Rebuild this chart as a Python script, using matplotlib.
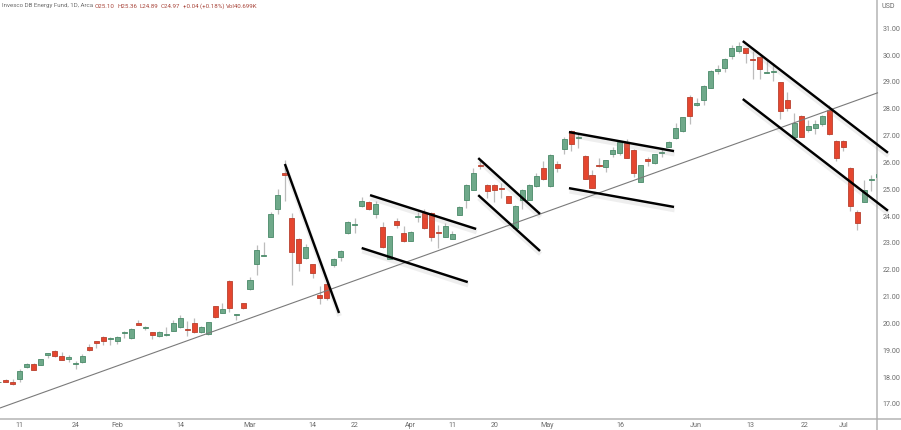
import numpy as np
import matplotlib.pyplot as plt
import matplotlib.patheffects as pe

plt.rcParams['font.family'] = ['Roboto', 'DejaVu Sans']

# candles, first one sits half off the left edge
first_bar = -1
opens = [17.81,17.91,17.83,17.93,18.37,18.50,18.47,18.84,18.99,18.77,
         18.69,18.49,18.55,19.11,19.33,19.51,19.43,19.36,19.66,19.46,
         20.00,19.83,19.67,19.52,19.57,19.73,19.85,19.81,20.00,19.68,
         19.59,20.64,20.40,21.58,20.31,20.75,21.28,22.21,22.52,23.23,
         24.27,25.60,23.91,23.15,22.42,22.20,21.06,21.47,22.19,22.46,
         23.36,23.68,24.37,24.54,24.06,23.58,22.41,23.80,23.37,23.07,
         23.96,24.11,24.13,23.41,23.23,23.16,24.05,24.61,24.98,25.89,
         25.16,25.16,25.04,24.73,23.57,24.60,24.61,25.12,25.79,25.12,
         25.93,26.51,27.18,26.91,26.25,25.52,25.89,25.84,26.31,26.36,
         26.73,26.48,25.28,26.11,25.98,26.35,26.58,26.91,27.18,28.42,
         28.12,28.32,28.78,29.41,29.53,29.95,30.15,30.26,29.87,29.91,
         29.34,29.36,28.98,28.34,26.93,27.71,27.22,27.29,27.43,27.95,
         26.78,26.81,25.79,24.14,24.54,25.33,25.47]
closes = [17.83,17.83,17.74,18.24,18.49,18.28,18.66,18.89,18.77,18.64,
          18.74,18.54,18.80,19.02,19.26,19.33,19.47,19.51,19.69,19.79,
          19.94,19.87,19.58,19.68,19.62,20.02,20.22,19.77,19.67,19.87,
          20.04,20.23,20.53,20.59,20.35,20.56,21.62,22.74,22.56,24.08,
          24.80,25.53,22.67,22.26,22.83,21.87,20.94,20.96,22.39,22.70,
          23.79,23.72,24.55,24.25,24.45,22.86,23.24,23.68,23.07,23.42,
          23.99,23.57,23.22,23.37,23.63,23.34,24.34,25.16,25.59,25.85,
          24.95,24.97,25.01,24.50,24.39,24.97,25.17,25.48,25.38,26.27,
          25.80,26.87,26.67,26.93,25.39,25.06,25.85,26.08,26.45,26.75,
          26.17,25.62,25.90,26.06,26.30,26.37,26.77,27.27,27.68,27.74,
          28.20,28.84,29.39,29.49,29.86,30.26,30.35,30.06,29.81,29.49,
          29.36,29.41,27.91,28.04,27.48,26.96,27.34,27.44,27.74,27.04,
          26.16,26.58,24.39,23.74,24.97,25.37,25.58]
highs = [17.85,17.93,17.92,18.29,18.51,18.51,18.68,18.91,19.01,18.92,
         18.81,18.59,18.85,19.23,19.35,19.53,19.49,19.53,19.72,19.83,
         20.13,19.89,19.69,19.73,19.87,20.13,20.33,20.10,20.20,19.89,
         20.07,20.66,20.75,21.61,20.36,20.76,21.74,22.91,23.02,24.16,
         25.02,26.09,24.10,23.17,22.96,22.21,21.39,21.49,22.42,22.74,
         23.82,23.91,24.72,24.56,24.57,23.78,23.27,23.91,23.63,23.44,
         24.14,24.25,24.15,23.67,23.73,23.44,24.36,25.18,25.78,26.09,
         25.18,25.18,25.24,24.76,24.41,25.00,25.19,25.59,26.05,26.30,
         26.06,26.96,27.20,27.06,26.27,25.72,26.17,26.10,26.56,26.83,
         26.89,26.51,25.91,26.21,26.32,26.51,26.79,27.45,27.70,28.51,
         28.41,28.87,29.46,29.63,29.89,30.37,30.49,30.28,30.16,29.96,
         29.81,29.69,29.00,28.63,27.85,27.76,27.58,27.58,27.76,28.14,
         26.83,26.83,25.81,24.22,25.34,25.53,25.74]
lows = [17.79,17.81,17.70,17.83,18.35,18.27,18.44,18.73,18.74,18.63,
        18.55,18.29,18.53,18.99,19.09,19.21,19.20,19.23,19.46,19.43,
        19.93,19.76,19.42,19.51,19.54,19.71,19.83,19.54,19.66,19.66,
        19.57,20.20,20.38,20.41,20.13,20.55,21.25,21.80,22.51,23.21,
        24.09,24.56,21.43,21.97,22.40,21.70,20.72,20.87,22.11,22.31,
        23.33,23.38,24.32,24.23,23.91,22.82,22.39,23.55,23.05,23.06,
        23.77,23.51,23.08,22.82,23.21,23.13,24.03,24.30,24.96,25.74,
        24.66,24.54,24.66,24.47,23.54,24.25,24.59,25.09,25.36,25.09,
        25.63,26.30,26.44,26.52,25.37,25.05,25.84,25.65,26.21,26.27,
        26.15,25.44,25.26,25.88,25.95,26.21,26.56,26.88,27.15,27.43,
        28.10,28.15,28.76,29.28,29.38,29.86,30.09,29.69,29.09,29.12,
        29.33,29.04,27.63,27.92,26.91,26.93,27.14,27.06,27.35,27.02,
        26.06,26.44,24.20,23.48,24.52,24.95,25.22]

# hand drawn lines: bar, price, bar, price
trend_line = [-0.82, 16.85, 124.9, 28.59]
flag_lines = [[40.0, 25.94, 47.75, 20.39],
              [52.2, 24.78, 67.4, 23.52],
              [51.0, 22.81, 66.2, 21.54],
              [67.7, 26.16, 76.55, 24.08],
              [67.7, 24.78, 76.55, 22.70],
              [80.7, 27.13, 95.75, 26.42],
              [80.7, 25.04, 95.75, 24.34],
              [105.6, 30.52, 126.4, 26.36],
              [105.6, 28.36, 126.4, 24.20]]

date_ticks = [2, 10, 16, 25, 35, 44, 50, 58, 64, 70, 77.6, 88, 98.8, 106.7, 114.5, 120]
date_labels = ['11', '24', 'Feb', '14', 'Mar', '14', '22', 'Apr', '11', '20',
               'May', '16', 'Jun', '13', '22', 'Jul']
price_ticks = list(range(17, 32))

header_name = 'Invesco DB Energy Fund, 1D, Arca'
header_values = ['O25.10', 'H25.36', 'L24.89', 'C24.97', '+0.04 (+0.18%)', 'Vol40.699K']
header_x = [95, 117, 139, 161, 183, 226]

W, H = 901, 430
green, green_edge = '#6fa98a', '#4a8a69'
red, red_edge = '#e5462f', '#b8402e'
wick = '#bcbcbc'
axis_grey = '#b4b4b4'
label_grey = '#6b6b6b'

fig = plt.figure(figsize=(W / 100, H / 100), dpi=100, facecolor='white')
ax = fig.add_axes([0, (H - 419) / H, 877 / W, 419 / H])
ax.set_xlim(-0.817, 124.83)
ax.set_ylim(16.44, 32.05)

bars = np.arange(len(opens)) + first_bar
o = np.array(opens)
c = np.array(closes)
up = c >= o

# wicks first so bodies cover them
ax.vlines(bars, lows, highs, color=wick, lw=0.9, zorder=2)
ax.bar(bars[up], (c - o)[up], bottom=o[up], width=0.72,
       color=green, edgecolor=green_edge, linewidth=0.6, zorder=3)
ax.bar(bars[~up], (c - o)[~up], bottom=o[~up], width=0.72,
       color=red, edgecolor=red_edge, linewidth=0.6, zorder=3)

ax.plot(trend_line[0::2], trend_line[1::2], color='#7a7a7a', lw=0.8, zorder=4, clip_on=False)

shadow = [pe.SimpleLineShadow(offset=(0.4, -2.2), shadow_color='#999999', alpha=0.16, linewidth=3.4), pe.Normal()]
for line in flag_lines:
    ax.plot(line[0::2], line[1::2], color='black', lw=1.75, zorder=5, clip_on=False,
            solid_capstyle='butt', path_effects=shadow)

for s in ['top', 'left']:
    ax.spines[s].set_visible(False)
for s in ['right', 'bottom']:
    ax.spines[s].set_color(axis_grey)
    ax.spines[s].set_linewidth(1.1)

ax.yaxis.tick_right()
ax.set_yticks(price_ticks)
ax.set_yticklabels(['%.2f' % p for p in price_ticks])
ax.set_xticks(date_ticks)
ax.set_xticklabels(date_labels)
ax.tick_params(axis='both', length=0, labelsize=5.1, labelcolor=label_grey)
ax.tick_params(axis='y', pad=4)
ax.tick_params(axis='x', pad=2.5)

# axis lines run on to the picture edges
fig.add_artist(plt.Line2D([877 / W, 877 / W], [0, 11 / H], color=axis_grey, lw=1.1))
fig.add_artist(plt.Line2D([877 / W, 1], [11 / H, 11 / H], color=axis_grey, lw=1.1))

fig.text(881 / W, 1 - 6 / H, 'USD', fontsize=5.1, color=label_grey, va='center')
fig.text(2 / W, 1 - 6 / H, header_name, fontsize=4.4, color=label_grey, va='center')
for x, txt in zip(header_x, header_values):
    fig.text(x / W, 1 - 6 / H, txt, fontsize=4.4, color='#a8453a', va='center')

fig.savefig('out.png', dpi=100)
